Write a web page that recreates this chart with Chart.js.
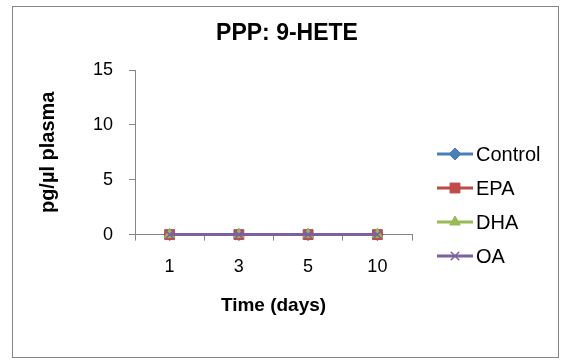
<!DOCTYPE html>
<html>
<head>
<meta charset="utf-8">
<script src="https://cdn.jsdelivr.net/npm/chart.js@4"></script>
<style>
  body { margin: 0; background: #fff; }
  #wrap { width: 569px; height: 362px; }
</style>
</head>
<body>
<div id="wrap"><canvas id="hete"></canvas></div>
<script>
const days = ['1', '3', '5', '10'];
const control = [0, 0, 0, 0];
const epa = [0, 0, 0, 0];
const dha = [0, 0, 0, 0];
const oa = [0, 0, 0, 0];
const yTicks = [0, 5, 10, 15];

const FONT = "'Liberation Sans', Arial, sans-serif";
const AXIS = '#868686';

// frame + title drawn straight onto the canvas
const framePlugin = {
    id: 'frame',
    beforeDraw(chart) {
        const ctx = chart.ctx;
        ctx.save();
        ctx.fillStyle = '#fff';
        ctx.fillRect(0, 0, chart.width, chart.height);
        ctx.strokeStyle = AXIS;
        ctx.lineWidth = 1;
        ctx.strokeRect(12.5, 6.5, 546, 351);
        ctx.restore();
    },
    afterDraw(chart) {
        const ctx = chart.ctx;
        ctx.save();
        ctx.fillStyle = '#000';
        ctx.font = 'bold 23px ' + FONT;
        ctx.textAlign = 'center';
        ctx.textBaseline = 'middle';
        ctx.fillText('PPP: 9-HETE', 287, 34);
        ctx.restore();
    }
};

// legend with line + marker samples, stacked on the right
const sideLegend = {
    id: 'sideLegend',
    afterDraw(chart) {
        const ctx = chart.ctx;
        const rows = [154, 188, 222, 256];
        chart.data.datasets.forEach((ds, i) => {
            const y = rows[i];
            ctx.save();
            ctx.strokeStyle = ds.borderColor;
            ctx.lineWidth = 3;
            ctx.beginPath();
            ctx.moveTo(437, y);
            ctx.lineTo(473, y);
            ctx.stroke();
            ctx.fillStyle = ds.pointBackgroundColor;
            ctx.strokeStyle = ds.pointBorderColor;
            ctx.lineWidth = ds.pointBorderWidth;
            Chart.helpers.drawPoint(ctx, {
                pointStyle: ds.pointStyle,
                radius: ds.pointRadius,
                rotation: 0,
                borderWidth: ds.pointBorderWidth
            }, 455, y);
            ctx.fillStyle = '#000';
            ctx.font = '20px ' + FONT;
            ctx.textAlign = 'left';
            ctx.textBaseline = 'middle';
            ctx.fillText(ds.label, 476, y + 1);
            ctx.restore();
        });
    }
};

function series(label, data, color, style, radius, order) {
    return {
        label: label,
        data: data,
        borderColor: color,
        backgroundColor: color,
        borderWidth: 3,
        pointStyle: style,
        pointRadius: radius,
        pointBackgroundColor: color,
        pointBorderColor: color,
        pointBorderWidth: style === 'crossRot' ? 1.5 : 1,
        clip: false,
        order: order
    };
}

new Chart(document.getElementById('hete'), {
    type: 'line',
    data: {
        labels: days,
        datasets: [
            series('Control', control, '#4a7ebb', 'rectRot', 6, 3),
            series('EPA', epa, '#be4b48', 'rect', 7, 2),
            series('DHA', dha, '#98b954', 'triangle', 6, 1),
            series('OA', oa, '#7d60a0', 'crossRot', 6, 0)
        ]
    },
    options: {
        responsive: true,
        maintainAspectRatio: false,
        animation: false,
        layout: { padding: { left: 24, right: 157, top: 70, bottom: 45 } },
        plugins: {
            legend: { display: false },
            tooltip: { enabled: false },
            title: { display: false }
        },
        scales: {
            x: {
                offset: true,
                grid: { offset: true, drawOnChartArea: false, tickLength: 6, color: AXIS },
                border: { color: AXIS },
                ticks: { color: '#000', padding: 16, font: { family: FONT, size: 18 } },
                title: {
                    display: true,
                    text: 'Time (days)',
                    color: '#000',
                    font: { family: FONT, size: 19, weight: 'bold' },
                    padding: { top: 0, bottom: 0 }
                }
            },
            y: {
                min: 0,
                max: 15,
                afterFit(scale) { scale.width = 111; },
                afterBuildTicks(scale) { scale.ticks = yTicks.map(v => ({ value: v })); },
                grid: { drawOnChartArea: false, tickLength: 6, color: AXIS },
                border: { color: AXIS },
                ticks: { color: '#000', padding: 16, font: { family: FONT, size: 18 } },
                title: {
                    display: true,
                    text: 'pg/µl plasma',
                    color: '#000',
                    font: { family: FONT, size: 20, weight: 'bold' },
                    padding: { top: 12, bottom: 0 }
                }
            }
        }
    },
    plugins: [framePlugin, sideLegend]
});
</script>
</body>
</html>
